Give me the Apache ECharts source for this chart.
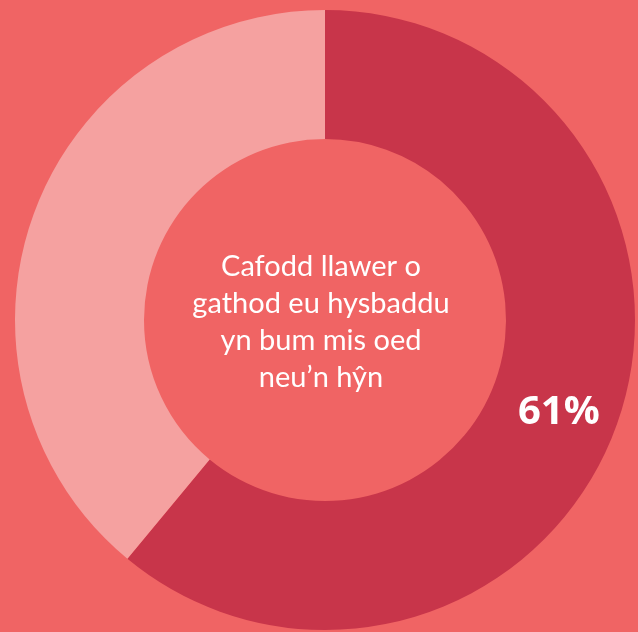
<!DOCTYPE html>
<html>
<head>
<meta charset="utf-8">
<script src="https://cdn.jsdelivr.net/npm/echarts@6/dist/echarts.min.js"></script>
<style>
  html, body { margin: 0; padding: 0; background: #F06464; }
  #chart { width: 638px; height: 632px; }
</style>
</head>
<body>
<div id="chart"></div>
<script>
// data
const categories = ["Yn bum mis oed neu'n hŷn", "Arall"];
const values = [61, 39];
const centerLines = ["Cafodd llawer o", "gathod eu hysbaddu", "yn bum mis oed", "neu’n hŷn"];

const colours = ["#C8354A", "#F5A1A0"];

const chart = echarts.init(document.getElementById("chart"), null, { renderer: "canvas" });

chart.setOption({
    backgroundColor: "#F06464",
    animation: false,
    graphic: [
        {
            type: "text",
            x: 321,
            y: 322,
            style: {
                text: centerLines.join("\n"),
                align: "center",
                verticalAlign: "middle",
                fill: "#FFFFFF",
                font: "29px Lato",
                lineHeight: 37,
            },
        },
    ],
    series: [
        {
            type: "pie",
            center: [325, 320],
            radius: [181, 310],
            startAngle: 90,
            clockwise: true,
            silent: true,
            labelLine: { show: false },
            data: categories.map((name, i) => ({
                name: name,
                value: values[i],
                itemStyle: { color: colours[i] },
                label: {
                    show: i === 0,
                    position: "inside",
                    formatter: "{d}%",
                    color: "#FFFFFF",
                    fontFamily: "Open Sans",
                    fontWeight: "bold",
                    fontSize: 40,
                    offset: [0, 8],
                },
            })),
        },
    ],
});
</script>
</body>
</html>
